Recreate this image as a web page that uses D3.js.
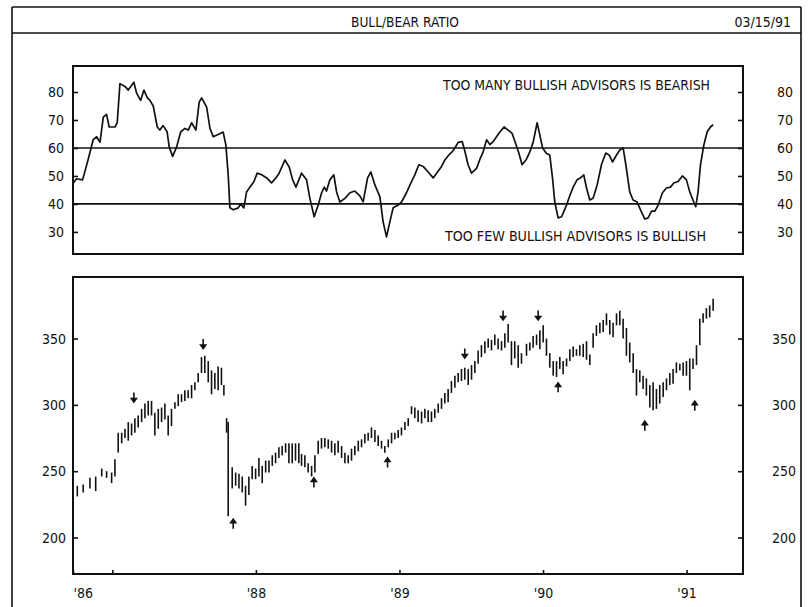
<!DOCTYPE html>
<html><head><meta charset="utf-8">
<script src="https://cdn.jsdelivr.net/npm/d3@7"></script>
<style>body{margin:0;background:#fff}svg{display:block}</style>
</head><body><svg id="c" width="808" height="607"></svg>
<script>
const titleText = "BULL/BEAR RATIO";
const dateText = "03/15/91";
const topNote = "TOO MANY BULLISH ADVISORS IS BEARISH";
const bottomNote = "TOO FEW BULLISH ADVISORS IS BULLISH";
const ratioTicks = [30, 40, 50, 60, 70, 80];
const ratioBands = [60, 40];
const priceTicks = [200, 250, 300, 350];
const yearTickValues = [1986.726, 1987, 1988, 1989, 1990, 1991];
const yearTickLabels = ["'86", "", "'88", "'89", "'90", "'91"];

// Bull/bear ratio (% bullish advisors), weekly turning points
const ratioYears = [1986.728,1986.751,1986.793,1986.832,1986.867,1986.891,1986.914,1986.937,1986.960,1986.978,
1987.018,1987.034,1987.053,1987.088,1987.111,1987.150,1987.169,1987.197,1987.220,1987.243,1987.262,1987.285,
1987.313,1987.331,1987.354,1987.382,1987.396,1987.420,1987.448,1987.476,1987.506,1987.529,1987.552,1987.582,
1987.605,1987.622,1987.657,1987.680,1987.703,1987.737,1987.772,1987.791,1987.807,1987.819,1987.842,1987.877,
1987.893,1987.916,1987.935,1987.958,1987.986,1988.009,1988.040,1988.075,1988.109,1988.139,1988.162,1988.202,
1988.232,1988.256,1988.279,1988.318,1988.353,1988.376,1988.406,1988.434,1988.458,1988.476,1988.492,1988.515,
1988.543,1988.562,1988.585,1988.620,1988.655,1988.689,1988.724,1988.747,1988.778,1988.801,1988.829,1988.864,
1988.886,1988.910,1988.933,1988.956,1988.991,1989.015,1989.049,1989.084,1989.107,1989.135,1989.165,1989.200,
1989.235,1989.265,1989.293,1989.316,1989.344,1989.367,1989.386,1989.409,1989.437,1989.455,1989.478,1989.502,
1989.537,1989.560,1989.583,1989.607,1989.630,1989.653,1989.676,1989.699,1989.729,1989.757,1989.785,1989.808,
1989.831,1989.854,1989.885,1989.908,1989.931,1989.959,1989.978,1989.997,1990.024,1990.047,1990.066,1990.082,
1990.105,1990.129,1990.164,1990.187,1990.210,1990.237,1990.261,1990.284,1990.303,1990.326,1990.349,1990.377,
1990.407,1990.437,1990.460,1990.484,1990.512,1990.535,1990.558,1990.577,1990.604,1990.627,1990.655,1990.679,
1990.709,1990.732,1990.756,1990.779,1990.802,1990.832,1990.860,1990.888,1990.911,1990.941,1990.971,1990.999,
1991.022,1991.050,1991.064,1991.080,1991.097,1991.120,1991.143,1991.166,1991.185];
const ratioValues = [47.5,49,48.6,56,63,64,62,71,72,67.5,
67.5,69,83,82,80.7,83.5,79.6,77,80.7,78,77,75,
67.5,66.4,68,65.7,60.4,57,60.4,65.7,67,66.4,69,66.4,
76.4,77.9,74.6,67,64,64.8,65.7,61,50.4,38.6,37.9,38.6,
40,38.6,44.3,46,47.9,51,50.4,49.3,47.5,49.3,51,55.7,
53.2,48.6,46,51,48.6,42,35.4,39.6,44,46,44.6,48.6,
50.4,44.3,40.7,42,44,44.6,42.9,40.7,49.3,51.4,46.8,42.5,
33.6,28.2,33.6,38.6,39.6,40.7,44,48,50.4,54,53.4,51.4,
49.3,51.4,53.4,55.7,57.5,58.6,60,62,62.3,59,54,51,
52.7,55.9,58.6,62.9,61.2,62.3,64,65.7,67.5,66.4,65.2,61.8,
58.3,54,56,58.6,62,69,64.6,60,58,57.5,49.3,40.7,
35,35.4,39.6,43,46,48.6,49.3,50.4,45.7,41.4,42,46.8,
54,58.2,57.5,55,57.5,59.3,60,54,44.3,41.4,40.7,37.9,
34.6,35,37.4,37.4,39.6,44,45.7,46,47.5,48,50,48.6,
44.3,40.7,39,44.3,54,61,65.7,67.5,68.3];

// Weekly price bars (high / low)
const barYears = [1986.756,1986.797,1986.844,1986.884,1986.926,1986.960,1986.995,1987.018,1987.041,1987.065,
1987.088,1987.111,1987.134,1987.157,1987.180,1987.204,1987.227,1987.250,1987.273,1987.296,1987.320,1987.343,
1987.366,1987.389,1987.412,1987.436,1987.459,1987.482,1987.505,1987.528,1987.552,1987.575,1987.598,1987.621,
1987.644,1987.668,1987.691,1987.714,1987.737,1987.760,1987.777,1987.796,1987.807,1987.835,1987.859,1987.882,
1987.905,1987.928,1987.951,1987.974,1987.998,1988.021,1988.044,1988.068,1988.091,1988.114,1988.137,1988.160,
1988.183,1988.207,1988.230,1988.253,1988.276,1988.299,
1988.318,1988.341,1988.364,1988.388,1988.411,1988.434,1988.457,1988.480,1988.504,1988.527,
1988.550,1988.573,1988.597,1988.620,1988.643,1988.666,1988.689,1988.713,1988.736,1988.759,
1988.782,1988.805,1988.829,1988.852,1988.875,1988.898,1988.922,1988.945,1988.968,1988.991,
1989.014,1989.038,1989.061,1989.084,1989.107,1989.130,1989.154,1989.177,1989.200,1989.223,
1989.246,1989.270,1989.293,1989.316,1989.339,1989.362,1989.386,1989.409,1989.432,1989.455,
1989.479,1989.502,1989.525,1989.548,1989.571,1989.595,1989.618,1989.641,1989.664,1989.687,
1989.711,1989.734,1989.757,1989.780,1989.803,1989.827,1989.850,
1989.885,1989.908,1989.931,1989.955,1989.978,1990.001,1990.024,1990.047,1990.071,1990.094,
1990.117,1990.140,1990.164,1990.187,1990.210,1990.233,1990.256,1990.280,1990.303,1990.326,
1990.349,1990.372,1990.396,1990.419,1990.442,1990.465,1990.488,1990.512,1990.535,1990.558,
1990.581,1990.604,1990.628,1990.651,1990.674,1990.697,1990.720,1990.744,1990.767,1990.790,
1990.813,1990.837,1990.860,1990.883,1990.906,1990.929,1990.953,1990.976,1990.999,1991.022,
1991.045,1991.069,1991.092,1991.115,1991.138,1991.161,1991.185];
const barHigh = [239,240,245,246,252,250,249,259,279,279,
282,287,286,290,292,297,301,303,303,294,297,298,
301,292,297,302,308,308,311,311,315,317,324,336,
337,333,326,324,329,328,315,290,287,253,249,248,
246,239,246,254,252,260,254,258,258,262,264,268,
269,271,271,271,271,271,
263,262,256,254,262,273,275,275,274,273,
271,273,269,264,262,267,269,273,274,278,
279,283,281,277,273,269,274,279,279,281,
283,287,290,299,298,296,295,297,296,295,
297,301,305,309,312,318,322,324,327,328,
327,330,333,341,345,348,350,349,353,350,
348,354,361,348,348,345,339,
346,347,352,353,356,360,350,339,333,333,
336,333,335,342,344,342,345,346,348,338,
354,360,362,364,369,364,362,369,371,365,
358,347,339,327,326,322,320,315,317,312,
315,317,320,324,327,332,331,332,333,335,
335,345,365,369,373,375,380];
const barLow = [231,234,237,235,246,245,241,246,264,271,
275,273,277,279,283,287,290,292,292,277,282,287,
289,277,284,297,299,302,303,305,305,311,317,324,
324,317,308,312,311,315,307,279,216,237,239,237,
234,224,232,244,244,246,241,249,249,254,256,260,
262,264,256,256,258,256,
254,253,249,246,249,263,267,268,267,264,
262,264,260,256,256,258,262,265,268,271,
273,275,272,269,267,264,268,271,274,275,
277,281,284,293,290,287,286,290,287,287,
290,294,297,301,302,309,313,317,318,319,
315,319,324,331,336,339,343,341,345,342,
341,343,347,330,335,328,331,
337,341,343,345,342,347,337,328,322,321,
327,323,329,333,336,337,337,336,334,330,
343,352,354,355,360,353,351,360,360,350,
337,332,324,307,317,312,307,298,296,297,
301,306,311,315,316,324,326,322,322,311,
327,330,345,362,365,366,371];

// Sell (down arrow above price) and buy (up arrow below price) signals
const sellYears = [1987.150, 1987.633, 1989.455, 1989.722, 1989.966];
const sellLevels = [305.5, 345.8, 338.7, 367.4, 367.4];
const buyYears = [1987.842, 1988.404, 1988.917, 1990.105, 1990.709, 1991.057];
const buyLevels = [210.4, 241.5, 256.6, 313.2, 284.3, 299.4];

const FONT = "'Liberation Sans Narrow','DejaVu Sans Condensed','Liberation Sans',sans-serif";
const svg = d3.select("#c");

// frame
const frame = svg.append("g").attr("stroke", "#111").attr("stroke-width", 1.6);
frame.append("line").attr("x1", 12).attr("x2", 801).attr("y1", 7).attr("y2", 7);
frame.append("line").attr("x1", 12).attr("x2", 801).attr("y1", 33).attr("y2", 33);
frame.append("line").attr("x1", 12).attr("x2", 12).attr("y1", 7).attr("y2", 607);
frame.append("line").attr("x1", 801).attr("x2", 801).attr("y1", 7).attr("y2", 607);

svg.append("text").attr("x", 405).attr("y", 27).attr("text-anchor", "middle")
  .attr("font-family", FONT).attr("font-size", 14).attr("textLength", 108)
  .attr("lengthAdjust", "spacingAndGlyphs").attr("fill", "#111").text(titleText);
svg.append("text").attr("x", 791).attr("y", 27).attr("text-anchor", "end")
  .attr("font-family", FONT).attr("font-size", 14).attr("fill", "#111").text(dateText);

const x = d3.scaleLinear().domain([1986.726, 1991.393]).range([73, 743]);
const yTop = d3.scaleLinear().domain([22.1, 89.3]).range([254, 66]);
const yBot = d3.scaleLinear().domain([172.5, 396.4]).range([574, 277]);

function styleAxis(g, anchor, dx) {
  g.select(".domain").remove();
  g.selectAll(".tick line").attr("stroke", "#111").attr("stroke-width", 1.6);
  g.selectAll(".tick text").attr("font-family", FONT).attr("font-size", 14)
    .attr("fill", "#111").attr("text-anchor", anchor).attr("x", dx);
}

// ---- top panel
const topPanel = svg.append("g");
topPanel.append("g").attr("transform", "translate(73,0)")
  .call(d3.axisLeft(yTop).tickValues(ratioTicks).tickSize(-5).tickFormat(d3.format("d")))
  .call(g => styleAxis(g, "middle", -17));
topPanel.append("g").attr("transform", "translate(743,0)")
  .call(d3.axisRight(yTop).tickValues(ratioTicks).tickSize(-5).tickFormat(d3.format("d")))
  .call(g => styleAxis(g, "middle", 42));
topPanel.selectAll("line.band").data(ratioBands).join("line").attr("class", "band")
  .attr("x1", x.range()[0]).attr("x2", x.range()[1])
  .attr("y1", d => yTop(d)).attr("y2", d => yTop(d))
  .attr("stroke", "#111").attr("stroke-width", 1.6);
topPanel.append("path")
  .datum(ratioYears.map((t, i) => [t, ratioValues[i]]))
  .attr("fill", "none").attr("stroke", "#111").attr("stroke-width", 1.7)
  .attr("stroke-linejoin", "round")
  .attr("d", d3.line().x(d => x(d[0])).y(d => yTop(d[1])));
topPanel.append("rect").attr("x", 73).attr("y", 66).attr("width", 670).attr("height", 188)
  .attr("fill", "none").attr("stroke", "#111").attr("stroke-width", 2);
topPanel.append("text").attr("x", 443).attr("y", 90).attr("font-family", FONT).attr("font-size", 14)
  .attr("textLength", 267).attr("lengthAdjust", "spacingAndGlyphs").attr("fill", "#111").text(topNote);
topPanel.append("text").attr("x", 445).attr("y", 241).attr("font-family", FONT).attr("font-size", 14)
  .attr("textLength", 261).attr("lengthAdjust", "spacingAndGlyphs").attr("fill", "#111").text(bottomNote);

// ---- bottom panel
const botPanel = svg.append("g");
botPanel.append("g").attr("transform", "translate(73,0)")
  .call(d3.axisLeft(yBot).tickValues(priceTicks).tickSize(-5).tickFormat(d3.format("d")))
  .call(g => styleAxis(g, "middle", -19));
botPanel.append("g").attr("transform", "translate(743,0)")
  .call(d3.axisRight(yBot).tickValues(priceTicks).tickSize(-5).tickFormat(d3.format("d")))
  .call(g => styleAxis(g, "middle", 41));
const xAxis = botPanel.append("g").attr("transform", "translate(0,574)")
  .call(d3.axisBottom(x).tickValues(yearTickValues).tickSize(-4).tickPadding(14)
    .tickFormat((d, i) => yearTickLabels[i]));
styleAxis(xAxis, "middle", 0);
xAxis.selectAll(".tick text").attr("x", null);
xAxis.selectAll(".tick").filter((d, i) => i === 0).select("text").attr("text-anchor", "start");

botPanel.selectAll("line.bar").data(barYears).join("line").attr("class", "bar")
  .attr("x1", d => x(d)).attr("x2", d => x(d))
  .attr("y1", (d, i) => yBot(barHigh[i])).attr("y2", (d, i) => yBot(barLow[i]))
  .attr("stroke", "#111").attr("stroke-width", 1.6);

botPanel.selectAll("path.sell").data(sellYears).join("path").attr("class", "sell")
  .attr("transform", (d, i) => `translate(${x(d)},${yBot(sellLevels[i])})`)
  .attr("d", "M0,-5V2 M-2.5,1L0,4.5L2.5,1Z")
  .attr("stroke", "#111").attr("stroke-width", 1.6).attr("fill", "#111");
botPanel.selectAll("path.buy").data(buyYears).join("path").attr("class", "buy")
  .attr("transform", (d, i) => `translate(${x(d)},${yBot(buyLevels[i])})`)
  .attr("d", "M0,5V-2 M-2.5,-1L0,-4.5L2.5,-1Z")
  .attr("stroke", "#111").attr("stroke-width", 1.6).attr("fill", "#111");

botPanel.append("rect").attr("x", 73).attr("y", 277).attr("width", 670).attr("height", 297)
  .attr("fill", "none").attr("stroke", "#111").attr("stroke-width", 2);
</script></body></html>
